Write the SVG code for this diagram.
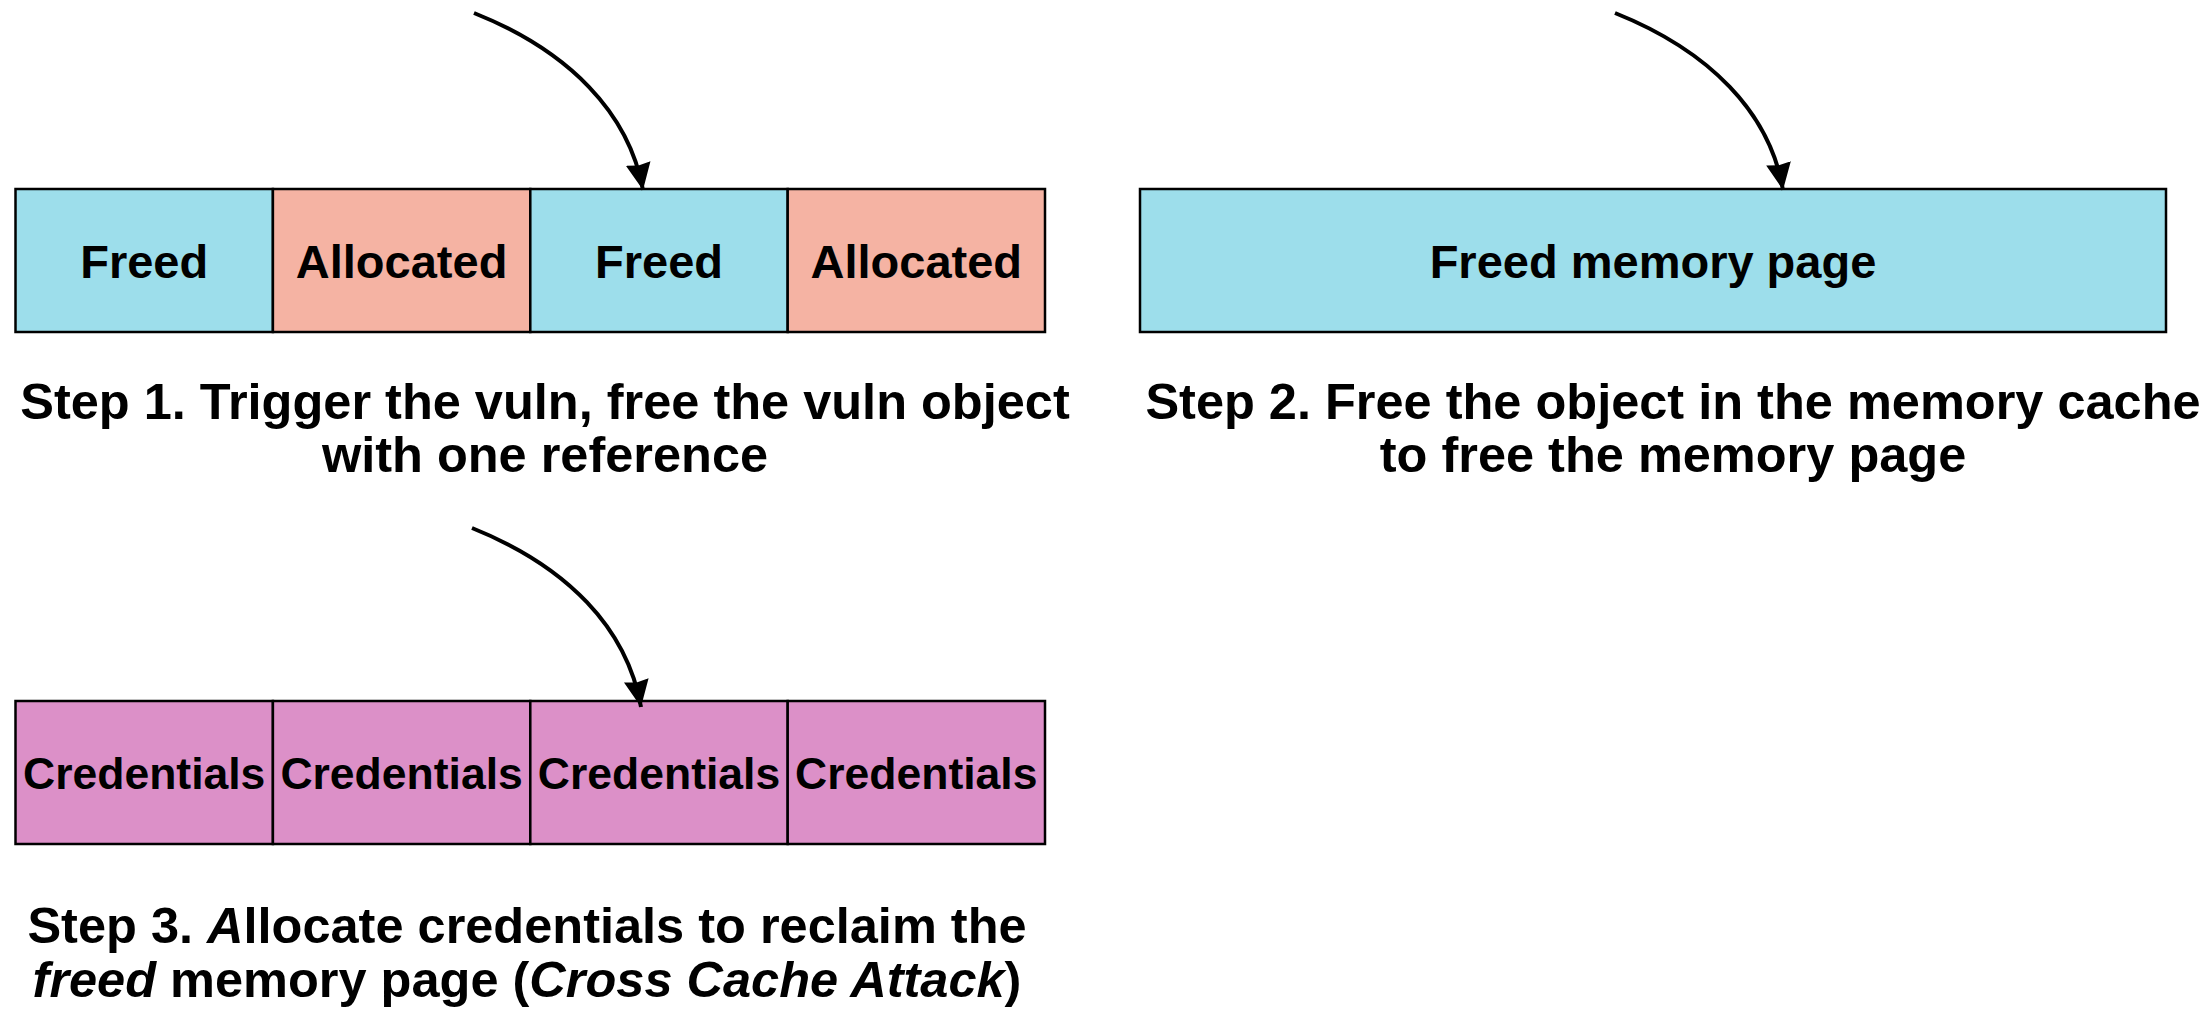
<svg xmlns="http://www.w3.org/2000/svg" width="2207" height="1012" viewBox="0 0 2207 1012">
  <style>
    text { font-family: "Liberation Sans", Arial, Helvetica, sans-serif; font-weight: bold; fill: #000; }
    .cell { stroke: #000; stroke-width: 2.5; }
    .freed { fill: #9DDEEB; }
    .alloc { fill: #F5B3A3; }
    .cred { fill: #DC90C8; }
    .lbl { font-size: 47px; text-anchor: middle; }
    .lbl-cred { font-size: 44.5px; text-anchor: middle; }
    .cap { font-size: 50.5px; text-anchor: middle; }
    .it { font-style: italic; }
    .edge { fill: none; stroke: #000; stroke-width: 4; }
  </style>
  <defs>
    <marker id="head" markerUnits="userSpaceOnUse" markerWidth="30" markerHeight="28" refX="27" refY="12.5" orient="auto">
      <path d="M0,0 L27,12.5 L0,25 L2,12.5 Z" fill="#000"/>
    </marker>
  </defs>

  <rect width="2207" height="1012" fill="#fff"/>

  <!-- Step 1: slab with freed and allocated objects -->
  <g id="step1-cell1"><rect class="cell freed" x="15.5" y="189" width="257.4" height="143"/><text class="lbl" x="144.2" y="277.5">Freed</text></g>
  <g id="step1-cell2"><rect class="cell alloc" x="272.9" y="189" width="257.4" height="143"/><text class="lbl" x="401.6" y="277.5">Allocated</text></g>
  <g id="step1-cell3"><rect class="cell freed" x="530.3" y="189" width="257.4" height="143"/><text class="lbl" x="659" y="277.5">Freed</text></g>
  <g id="step1-cell4"><rect class="cell alloc" x="787.7" y="189" width="257.3" height="143"/><text class="lbl" x="916.3" y="277.5">Allocated</text></g>
  <g id="step1-caption">
    <text class="cap" x="545" y="419">Step 1. Trigger the vuln, free the vuln object</text>
    <text class="cap" x="545" y="472">with one reference</text>
  </g>

  <!-- Step 2: whole page freed -->
  <g id="step2-page"><rect class="cell freed" x="1140" y="189" width="1026" height="143"/><text class="lbl" x="1653" y="277.5">Freed memory page</text></g>
  <g id="step2-caption">
    <text class="cap" x="1673" y="419">Step 2. Free the object in the memory cache</text>
    <text class="cap" x="1673" y="472">to free the memory page</text>
  </g>

  <!-- Step 3: page reclaimed by credentials -->
  <g id="step3-cell1"><rect class="cell cred" x="15.5" y="701" width="257.4" height="143"/><text class="lbl-cred" x="144.2" y="789">Credentials</text></g>
  <g id="step3-cell2"><rect class="cell cred" x="272.9" y="701" width="257.4" height="143"/><text class="lbl-cred" x="401.6" y="789">Credentials</text></g>
  <g id="step3-cell3"><rect class="cell cred" x="530.3" y="701" width="257.4" height="143"/><text class="lbl-cred" x="659" y="789">Credentials</text></g>
  <g id="step3-cell4"><rect class="cell cred" x="787.7" y="701" width="257.3" height="143"/><text class="lbl-cred" x="916.3" y="789">Credentials</text></g>
  <g id="step3-caption">
    <text class="cap" x="527" y="943">Step 3. <tspan class="it">A</tspan>llocate credentials to reclaim the</text>
    <text class="cap" x="527" y="996.5"><tspan class="it">freed</tspan> memory page (<tspan class="it">Cross Cache Attack</tspan>)</text>
  </g>

  <!-- connectors -->
  <g id="connectors">
    <path class="edge" marker-end="url(#head)" d="M474,13 C569,51 629,113 643,190"/>
    <path class="edge" marker-end="url(#head)" d="M1615,13 C1710,51 1770,113 1783,190"/>
    <path class="edge" marker-end="url(#head)" d="M472,528 C567,566 627,628 641,707"/>
  </g>
</svg>
